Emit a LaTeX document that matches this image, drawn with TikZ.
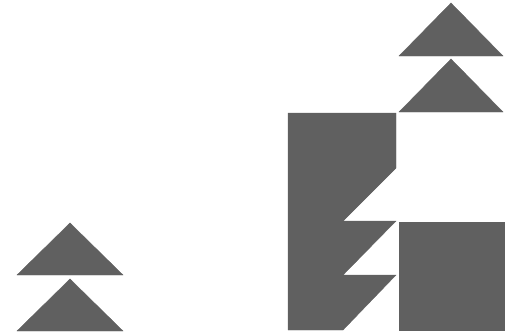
\documentclass[tikz,border=0pt]{standalone}
\definecolor{piece}{RGB}{96,96,96}
\begin{document}
\begin{tikzpicture}[x=1pt,y=-1pt,
  tan/.style={fill=piece,draw=piece,line width=0.4pt,line join=miter}]
\useasboundingbox (0,0) rectangle (514,335);
% left pair of triangles
\fill[tan] (17,275) -- (70,223) -- (123,275) -- cycle;
\fill[tan] (17,331) -- (70,279) -- (123,331) -- cycle;
% top right pair of triangles
\fill[tan] (399,56) -- (451,3) -- (503,56) -- cycle;
\fill[tan] (399,112) -- (451,59) -- (503,112) -- cycle;
% main body
\fill[tan] (288,113) -- (396,113) -- (396,168) -- (343,221) -- (396,221)
  -- (343,275) -- (396,275) -- (343,330) -- (288,330) -- cycle;
% square
\fill[tan] (399,222) rectangle (504,330);
\end{tikzpicture}
\end{document}
